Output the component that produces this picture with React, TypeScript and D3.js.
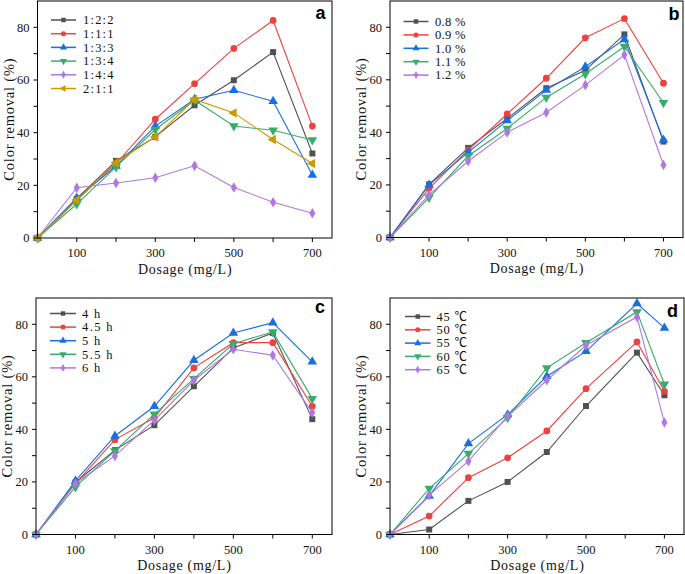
import React from 'react';
import * as d3 from 'd3';

// dosage (mg/L) on the x axis
const dosage = [0, 100, 200, 300, 400, 500, 600, 700];
const dosageD = [0, 100, 200, 300, 400, 500, 630, 700];

// panel a: mass ratio
const ratioNames = ['1:2:2', '1:1:1', '1:3:3', '1:3:4', '1:4:4', '2:1:1'];
const r122 = [0, 14.9, 29.3, 38.4, 50.4, 59.9, 70.6, 32.1];
const r111 = [0, 14.3, 28.2, 45.1, 58.6, 72.0, 82.6, 42.5];
const r133 = [0, 15.2, 27.3, 42.5, 52.7, 56.1, 51.9, 23.9];
const r134 = [0, 12.9, 27.0, 41.2, 52.3, 42.5, 40.9, 37.2];
const r144 = [0, 19.1, 20.9, 22.9, 27.4, 19.2, 13.6, 9.4];
const r211 = [0, 14.4, 28.7, 38.4, 52.6, 47.5, 37.4, 28.3];

// panel b: concentration
const concNames = ['0.8 %', '0.9 %', '1.0 %', '1.1 %', '1.2 %'];
const c08 = [0, 20.2, 34.1, 45.3, 56.8, 63.6, 77.3, 36.5];
const c09 = [0, 18.7, 33.3, 47.0, 60.6, 76.0, 83.3, 58.7];
const c10 = [0, 20.0, 32.4, 44.5, 56.1, 65.0, 75.4, 37.1];
const c11 = [0, 15.2, 31.0, 41.5, 53.3, 62.2, 72.7, 51.3];
const c12 = [0, 16.2, 29.0, 40.0, 47.6, 58.0, 69.5, 27.6];

// panel c: time
const timeNames = ['4 h', '4.5 h', '5 h', '5.5 h', '6 h'];
const t40 = [0, 19.8, 32.1, 41.6, 56.4, 71.0, 76.7, 43.9];
const t45 = [0, 19.4, 36.1, 44.4, 63.4, 73.0, 73.0, 48.8];
const t50 = [0, 20.4, 37.5, 48.8, 66.3, 76.7, 80.6, 65.7];
const t55 = [0, 18.1, 31.8, 45.8, 59.3, 72.6, 77.1, 51.7];
const t60 = [0, 19.4, 29.9, 43.5, 58.7, 70.5, 68.2, 46.4];

// panel d: temperature
const tempNames = ['45 ℃', '50 ℃', '55 ℃', '60 ℃', '65 ℃'];
const k45 = [0, 1.9, 12.8, 20.0, 31.4, 48.9, 69.2, 53.0];
const k50 = [0, 7.0, 21.6, 29.2, 39.4, 55.5, 73.3, 54.5];
const k55 = [0, 14.7, 34.6, 45.6, 60.2, 69.7, 87.9, 78.6];
const k60 = [0, 17.5, 30.8, 44.4, 63.4, 73.0, 84.7, 57.2];
const k65 = [0, 15.0, 27.9, 45.0, 58.7, 72.0, 82.8, 42.6];

const yTicks = [0, 20, 40, 60, 80];
const yMinor = [10, 30, 50, 70];
const xTicks = [100, 300, 500, 700];
const xMinor = [200, 400, 600];

const colors = ['#515151', '#F14040', '#1A6FDF', '#37AD6B', '#B177DE', '#CC9900'];
const shapes = ['square', 'circle', 'up', 'down', 'diamond', 'left'];

const serif = '"Liberation Serif", "Noto Sans CJK SC", serif';

// rough SimSun-like width: ascii half width, CJK symbols full width
const textWidth = (s: string, size: number) =>
  Array.from(s).reduce((w, ch) => w + (ch.charCodeAt(0) > 255 ? size : size / 2), 0);

const Marker = ({ shape, x, y, size, color }: any) => {
  let type: any = d3.symbolSquare;
  let rot = 0;
  let area = size;
  if (shape === 'circle') type = d3.symbolCircle;
  if (shape === 'up' || shape === 'down' || shape === 'left') {
    type = d3.symbolTriangle;
    area = size * 1.1;
  }
  if (shape === 'down') rot = 180;
  if (shape === 'left') rot = -90;
  if (shape === 'diamond') {
    type = d3.symbolDiamond;
    area = size * 0.9;
  }
  const d = d3.symbol().type(type).size(area)() as string;
  return <path d={d} fill={color} transform={`translate(${x},${y}) rotate(${rot})`} />;
};

const Panel = ({ box, xs, names, series, tag, leg }: any) => {
  const x = d3.scaleLinear().domain([0, 750]).range([box.left, box.right]);
  const y = d3.scaleLinear().domain([0, 90]).range([box.bottom, box.top]);
  const line = d3
    .line<number>()
    .x((_, i) => x(xs[i]))
    .y((v) => y(v));
  const cx = (box.left + box.right) / 2;
  const cy = (box.top + box.bottom) / 2;
  const xTitle = 'Dosage (mg/L)';
  const yTitle = 'Color removal (%)';
  return (
    <g>
      {series.map((s: number[], i: number) => (
        <g key={i}>
          <path d={line(s) as string} fill="none" stroke={colors[i]} strokeWidth={1.1} />
          {s.map((v, j) => (
            <Marker key={j} shape={shapes[i]} x={x(xs[j])} y={y(v)} size={36} color={colors[i]} />
          ))}
        </g>
      ))}
      <rect
        x={box.left}
        y={box.top}
        width={box.right - box.left}
        height={box.bottom - box.top}
        fill="none"
        stroke="#000"
        strokeWidth={1}
      />
      {yTicks.concat(yMinor).map((t) => (
        <line key={'y' + t} x1={box.left - 4} x2={box.left} y1={y(t)} y2={y(t)} stroke="#000" />
      ))}
      {yTicks.map((t) => (
        <text
          key={'yl' + t}
          x={box.left - 8}
          y={y(t)}
          dy="0.35em"
          textAnchor="end"
          fontFamily={serif}
          fontSize={12.5}
          fill="#111"
        >
          {t}
        </text>
      ))}
      {xTicks.concat(xMinor).map((t) => (
        <line key={'x' + t} x1={x(t)} x2={x(t)} y1={box.bottom} y2={box.bottom + 4} stroke="#000" />
      ))}
      {xTicks.map((t) => (
        <text
          key={'xl' + t}
          x={x(t)}
          y={box.bottom + 15}
          dy="0.35em"
          textAnchor="middle"
          fontFamily={serif}
          fontSize={12.5}
          fill="#111"
        >
          {t}
        </text>
      ))}
      <text
        x={cx}
        y={box.bottom + 31}
        dy="0.35em"
        textAnchor="middle"
        fontFamily={serif}
        fontSize={14}
        textLength={textWidth(xTitle, 14.4)}
        fill="#111"
      >
        {xTitle}
      </text>
      <text
        transform={`translate(${box.left - 29},${cy}) rotate(-90)`}
        dy="0.35em"
        textAnchor="middle"
        fontFamily={serif}
        fontSize={14.5}
        textLength={textWidth(yTitle, 14.4)}
        fill="#111"
      >
        {yTitle}
      </text>
      {names.map((n: string, i: number) => {
        const ly = box.top + leg.top + i * leg.step;
        return (
          <g key={n}>
            <line x1={box.left + leg.x0} x2={box.left + leg.x1} y1={ly} y2={ly} stroke={colors[i]} strokeWidth={1.5} />
            <Marker shape={shapes[i]} x={box.left + (leg.x0 + leg.x1) / 2} y={ly} size={20} color={colors[i]} />
            <text
              x={box.left + leg.tx}
              y={ly}
              dy="0.35em"
              fontFamily={serif}
              fontSize={12.5}
              textLength={textWidth(n, 12.2)}
              fill="#111"
            >
              {n}
            </text>
          </g>
        );
      })}
      <text
        x={box.right - leg.tagDx}
        y={box.top + leg.tagDy}
        textAnchor="end"
        fontFamily='"Liberation Sans", Arial, sans-serif'
        fontWeight="bold"
        fontSize={18}
        fill="#000"
      >
        {tag}
      </text>
    </g>
  );
};

export default function App() {
  return (
    <svg
      width={685}
      height={574}
      viewBox="0 0 685 574"
      style={{ position: 'absolute', left: 0, top: 0, background: '#fff' }}
    >
      <rect width={685} height={574} fill="#fff" />
      <Panel
        box={{ left: 37.5, right: 332, top: 1, bottom: 238 }}
        xs={dosage}
        names={ratioNames}
        series={[r122, r111, r133, r134, r144, r211]}
        tag="a"
        leg={{ top: 19, step: 13.7, x0: 13.5, x1: 38.5, tx: 45.5, tagDx: 6.5, tagDy: 18 }}
      />
      <Panel
        box={{ left: 390, right: 683, top: 1, bottom: 237.5 }}
        xs={dosage}
        names={concNames}
        series={[c08, c09, c10, c11, c12]}
        tag="b"
        leg={{ top: 20.5, step: 13.4, x0: 13.5, x1: 38.5, tx: 45, tagDx: 3.5, tagDy: 18.5 }}
      />
      <Panel
        box={{ left: 36, right: 332, top: 298, bottom: 534.5 }}
        xs={dosage}
        names={timeNames}
        series={[t40, t45, t50, t55, t60]}
        tag="c"
        leg={{ top: 15.5, step: 13.6, x0: 14, x1: 40, tx: 46, tagDx: 7, tagDy: 15 }}
      />
      <Panel
        box={{ left: 390, right: 684, top: 298, bottom: 534.5 }}
        xs={dosageD}
        names={tempNames}
        series={[k45, k50, k55, k60, k65]}
        tag="d"
        leg={{ top: 18.5, step: 13.3, x0: 15, x1: 40.5, tx: 46.5, tagDx: 6, tagDy: 19 }}
      />
    </svg>
  );
}
